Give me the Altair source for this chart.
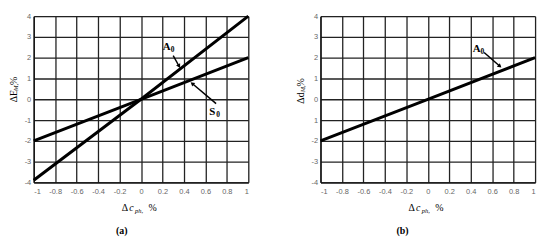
import math
import altair as alt
import pandas as pd

# ---- data ----
x_pts = [-1.0, 0.0, 1.0]
a_A0 = [-3.9, 0.0, 4.0]
a_S0 = [-2.0, 0.0, 2.0]
b_A0 = [-2.0, 0.0, 2.0]

x_ticks = [-1, -0.8, -0.6, -0.4, -0.2, 0, 0.2, 0.4, 0.6, 0.8, 1]
y_ticks = [-4, -3, -2, -1, 0, 1, 2, 3, 4]

# annotation labels (data coords)
a_lab_main = ["A", "S"]
a_lab_x = [0.24, 0.665]
a_lab_y = [2.52, -0.6]
a_arr_x1 = [0.30, 0.70]
a_arr_y1 = [2.10, -0.21]
a_arr_x2 = [0.355, 0.477]
a_arr_y2 = [1.59, 0.76]

b_lab_main = ["A"]
b_lab_x = [0.455]
b_lab_y = [2.41]
b_arr_x1 = [0.525]
b_arr_y1 = [2.25]
b_arr_x2 = [0.672]
b_arr_y2 = [1.59]

W, H = 217, 168
SERIF = "Liberation Serif"
SANS = "Liberation Sans"


def arrow_angles(x1, y1, x2, y2):
    sx, sy = W / 2.0, H / 8.0
    out = []
    for a, b, c, d in zip(x1, y1, x2, y2):
        dx = (c - a) * sx
        dy = -(d - b) * sy
        out.append(math.degrees(math.atan2(dx, -dy)) % 360)
    return out


def panel(lines, labs, arrows, ytitle_main, ty0, caption, cap_dx, ylabel_expr):
    xs = alt.Scale(domain=[-1, 1], nice=False, zero=False)
    ys = alt.Scale(domain=[-4, 4], nice=False, zero=False)
    common = dict(title=None, grid=True, ticks=False, labelOverlap=False,
                  labelFont=SANS, labelFontSize=7.5, labelColor="#666",
                  gridColor="#222", gridWidth=1.3, gridOpacity=1,
                  domainColor="#111", domainWidth=1.3)
    xaxis = alt.Axis(values=x_ticks, labelExpr="toString(datum.value)",
                     labelPadding=5, **common)
    yaxis = alt.Axis(values=y_ticks, labelExpr=ylabel_expr, labelPadding=3, **common)

    def X(f):
        return alt.X(f, type="quantitative", scale=xs, axis=xaxis)

    def Y(f):
        return alt.Y(f, type="quantitative", scale=ys, axis=yaxis)

    line_layers = []
    for name, yv in lines:
        df = pd.DataFrame({"x": x_pts, "y": yv, "s": name})
        line_layers.append(
            alt.Chart(df).mark_line(color="black", strokeWidth=3).encode(
                x=X("x"), y=Y("y"))
        )

    lab_main, lab_x, lab_y = labs
    ldf = pd.DataFrame({"t": lab_main, "x": lab_x, "y": lab_y, "sub": ["0"] * len(lab_main)})
    lab_text = alt.Chart(ldf).mark_text(font=SERIF, fontSize=11, fontWeight="bold",
                                        align="center", baseline="middle", color="black").encode(
        x=X("x"), y=Y("y"), text="t:N")
    lab_sub = alt.Chart(ldf).mark_text(font=SERIF, fontSize=7.5, fontWeight="bold",
                                       align="left", baseline="middle", dx=4, dy=3,
                                       color="black").encode(
        x=X("x"), y=Y("y"), text="sub:N")

    x1, y1, x2, y2 = arrows
    adf = pd.DataFrame({"x1": x1, "y1": y1, "x2": x2, "y2": y2,
                        "ang": arrow_angles(x1, y1, x2, y2)})
    arr_rule = alt.Chart(adf).mark_rule(color="black", strokeWidth=1.5).encode(
        x=X("x1"), y=Y("y1"), x2="x2:Q", y2="y2:Q")
    arr_head = alt.Chart(adf).mark_point(shape="triangle-up", filled=True, color="black",
                                         size=22, opacity=1).encode(
        x=X("x2"), y=Y("y2"),
        angle=alt.Angle("ang:Q", scale=None))

    one = pd.DataFrame({"k": [0]})

    def txt(t, x, y, size=10, style="normal", weight="normal", angle=0,
            align="left", baseline="alphabetic"):
        kw = dict(font=SERIF, fontSize=size, fontStyle=style, fontWeight=weight,
                  align=align, baseline=baseline, color="black", text=t)
        if angle:
            kw["angle"] = angle
        return alt.Chart(one).mark_text(**kw).encode(x=alt.value(x), y=alt.value(y))

    # y title (rotated, reading upward)
    yt = [
        txt(ytitle_main, -20, ty0, angle=270, baseline="middle"),
        txt("M,", -17.5, ty0 - 11.5, size=6.5, style="italic", angle=270, baseline="middle"),
        txt("%", -20, ty0 - 17.5, angle=270, baseline="middle"),
    ]
    # x title
    xt = [
        txt("Δ", 89, 196.5),
        txt("c", 96.5, 196.5, style="italic"),
        txt("ph,", 102.5, 199, size=6.5, style="italic"),
        txt("%", 116, 196.5),
    ]
    cap = [txt(caption, cap_dx, 217, size=10, weight="bold", align="center",
               baseline="middle")]

    return alt.layer(*line_layers, arr_rule, arr_head, lab_text, lab_sub,
                     *yt, *xt, *cap).properties(width=W, height=H)


left = panel([("A0", a_A0), ("S0", a_S0)],
             (a_lab_main, a_lab_x, a_lab_y),
             (a_arr_x1, a_arr_y1, a_arr_x2, a_arr_y2),
             "ΔE", 87, "(a)", 89, "toString(datum.value)")
right = panel([("A0", b_A0)],
              (b_lab_main, b_lab_x, b_lab_y),
              (b_arr_x1, b_arr_y1, b_arr_x2, b_arr_y2),
              "Δd", 88.5, "(b)", 83, "datum.value == -1 ? '1' : toString(datum.value)")

chart = alt.hconcat(left, right, spacing=73, bounds="flush").properties(
    padding={"left": 0, "top": 0, "right": 0, "bottom": 0}
).configure_view(stroke="#222", strokeWidth=1.3).configure(background="white")

chart.save("out.html", embed_options={"renderer": "svg", "actions": False})
